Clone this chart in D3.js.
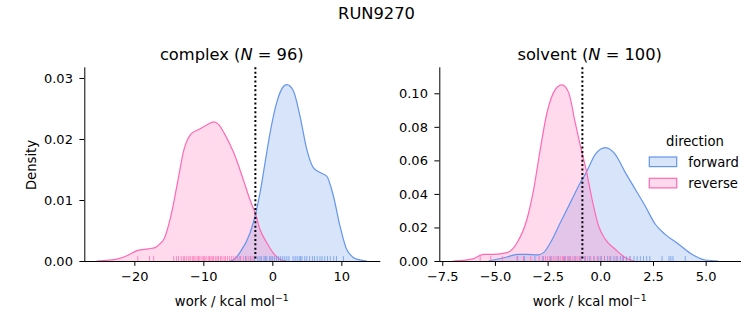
<!DOCTYPE html>
<html>
<head>
<meta charset="utf-8">
<script src="https://cdn.jsdelivr.net/npm/d3@7"></script>
<style>
body { margin: 0; background: #fff; }
svg text { font-family: "DejaVu Sans", sans-serif; fill: #000; }
.axis text { font-size: 13px; }
.axis path, .axis line { stroke: #000; stroke-width: 1; }
.title { font-size: 16.3px; }
.axislabel { font-size: 13.2px; }
.legend { font-size: 13.2px; }
</style>
</head>
<body>
<svg id="chart" width="753" height="325"></svg>
<script>
// complex leg, density curves
const fwdComplexWork = [-6.2, -5.5, -4.68, -3.23, -2.5, -1.78, -1.06, -0.33, 0.64, 1.6, 2.09, 3.04, 4.0, 4.99, 5.94, 6.91, 7.88, 8.84, 9.81, 10.78, 12.2, 13.7];
const fwdComplexDensity = [0, 0.0003, 0.0014, 0.0046, 0.0074, 0.0112, 0.0161, 0.0210, 0.0260, 0.0286, 0.0289, 0.0279, 0.0238, 0.0183, 0.0153, 0.0145, 0.0139, 0.0107, 0.0057, 0.0019, 0.0003, 0];
const revComplexWork = [-25.5, -24, -22.5, -21, -19.6, -18, -17, -16.3, -15.7, -14.7, -13.75, -12.8, -11.8, -10.6, -9.65, -8.45, -7.8, -7.0, -6.1, -5.65, -4.2, -3.23, -2.46, -1.8, -0.8, 0.15, 1.1, 2.0];
const revComplexDensity = [0, 0.0001, 0.0003, 0.0009, 0.0017, 0.0020, 0.0022, 0.0028, 0.0036, 0.0074, 0.0128, 0.0183, 0.0208, 0.0216, 0.0222, 0.0228, 0.0224, 0.0210, 0.0190, 0.0179, 0.0133, 0.0100, 0.0078, 0.0052, 0.0030, 0.0013, 0.0003, 0];

// solvent leg
const fwdSolventWork = [-5.3, -4.43, -3.95, -3.48, -3.0, -2.69, -2.37, -1.9, -1.42, -0.95, -0.71, -0.47, -0.24, 0.24, 0.71, 1.19, 1.66, 2.13, 2.61, 3.08, 3.72, 4.35, 4.98, 5.6];
const fwdSolventDensity = [0, 0.0024, 0.0040, 0.0040, 0.0036, 0.0050, 0.0109, 0.0228, 0.0348, 0.0467, 0.0517, 0.0580, 0.0636, 0.0676, 0.0636, 0.0527, 0.0428, 0.0328, 0.0219, 0.0159, 0.0100, 0.0040, 0.0006, 0];
const revSolventWork = [-7.0, -6.5, -6.0, -5.54, -5.06, -4.43, -3.95, -3.48, -3.16, -2.85, -2.53, -2.13, -1.82, -1.5, -1.19, -0.87, -0.71, -0.39, -0.08, 0.24, 0.71, 1.19, 1.6];
const revSolventDensity = [0, 0.0004, 0.0014, 0.0040, 0.0040, 0.0050, 0.0109, 0.0249, 0.0428, 0.0666, 0.0884, 0.1024, 0.1050, 0.1004, 0.0825, 0.0646, 0.0566, 0.0368, 0.0209, 0.0129, 0.0070, 0.0020, 0];

// individual work values (rug)
const fwdComplexRug = [-4.7, -3.9, -3.2, -2.6, -2.1, -1.8, -1.6, -1.2, -1.0, -0.8, -0.4, -0.2, 0.0, 0.3, 0.6, 0.9, 1.2, 1.5, 1.8, 2.1, 2.4, 3.0, 3.3, 3.6, 3.9, 4.1, 4.3, 4.7, 5.0, 5.4, 5.8, 6.1, 6.5, 6.9, 7.2, 7.6, 8.0, 8.4, 8.9, 9.3, 10.3];
const revComplexRug = [-19.5, -17.8, -17.2, -14.3, -13.9, -13.6, -13.2, -12.9, -12.7, -12.4, -12.1, -11.9, -11.6, -11.4, -11.2, -10.9, -10.7, -10.5, -10.2, -10.0, -9.8, -9.6, -9.3, -9.1, -8.9, -8.7, -8.5, -8.2, -8.0, -7.8, -7.5, -7.3, -7.0, -6.8, -6.5, -6.2, -5.9, -5.6, -5.3, -5.0, -4.6, -4.2, -3.8, -3.5, -3.1, -2.8];
const fwdSolventRug = [-3.92, -3.6, -3.1, -2.7, -2.35, -2.0, -1.7, -1.45, -1.2, -0.95, -0.7, -0.5, -0.3, -0.1, 0.05, 0.2, 0.35, 0.5, 0.65, 0.8, 0.95, 1.1, 1.25, 1.42, 1.6, 1.75, 1.9, 2.05, 2.2, 2.35, 2.93, 3.26, 3.35, 3.45, 4.03];
const revSolventRug = [-5.7, -5.2, -4.65, -3.95, -3.65, -3.3, -2.9, -2.75, -2.6, -2.5, -2.4, -2.3, -2.2, -2.1, -2.0, -1.9, -1.8, -1.75, -1.65, -1.55, -1.5, -1.4, -1.3, -1.2, -1.1, -1.0, -0.9, -0.75, -0.6, -0.45, -0.3, -0.15, 0.0, 0.2, 0.45, 0.75, 1.05, 1.4];

// dotted reference lines
const complexMarker = -2.46;
const solventMarker = -0.85;

const complexXTicks = [-20, -10, 0, 10];
const complexYTicks = [0, 0.01, 0.02, 0.03];
const solventXTicks = [-7.5, -5.0, -2.5, 0.0, 2.5, 5.0];
const solventYTicks = [0, 0.02, 0.04, 0.06, 0.08, 0.10];

const directions = ["forward", "reverse"];
const colors = {forward: "#6495ED", reverse: "#FF69B4"};

let svg = d3.select("#chart");
let plotTop = 67.3, plotBottom = 261;

svg.append("text").attr("class", "title").attr("x", 376.5).attr("y", 19)
    .attr("text-anchor", "middle").text("RUN9270");

function drawPanel(p){
    let g = svg.append("g");
    let xScale = d3.scaleLinear().domain(p.xDomain).range([p.x0, p.x1]);
    let yScale = d3.scaleLinear().domain([0, p.yMax]).range([plotBottom, plotTop]);

    let area = d3.area().curve(d3.curveMonotoneX)
        .x(d => xScale(d[0])).y0(plotBottom).y1(d => yScale(d[1]));
    let line = d3.line().curve(d3.curveMonotoneX)
        .x(d => xScale(d[0])).y(d => yScale(d[1]));

    let series = p.series.map(s => ({dir: s.dir, pts: d3.zip(s.work, s.density), rug: s.rug}));

    series.forEach(s => {
        g.append("path").attr("d", area(s.pts))
            .attr("fill", colors[s.dir]).attr("fill-opacity", 0.25).attr("stroke", "none");
    });
    series.forEach(s => {
        g.append("path").attr("d", line(s.pts))
            .attr("fill", "none").attr("stroke", colors[s.dir]).attr("stroke-width", 1.2);
    });
    series.forEach(s => {
        g.selectAll(null).data(s.rug).enter().append("line")
            .attr("x1", d => xScale(d)).attr("x2", d => xScale(d))
            .attr("y1", plotBottom).attr("y2", plotBottom - 4.9)
            .attr("stroke", colors[s.dir]).attr("stroke-opacity", 0.75).attr("stroke-width", 1);
    });

    g.append("line").attr("x1", xScale(p.marker)).attr("x2", xScale(p.marker))
        .attr("y1", plotTop).attr("y2", plotBottom)
        .attr("stroke", "#000").attr("stroke-width", 2).attr("stroke-dasharray", "2,2.4");

    let xAxis = d3.axisBottom(xScale).tickValues(p.xTicks).tickSizeInner(4.9).tickSizeOuter(0)
        .tickPadding(5.5).tickFormat(d3.format(p.xFormat));
    g.append("g").attr("class", "axis").attr("transform", `translate(0,${plotBottom})`).call(xAxis);
    let yAxis = d3.axisLeft(yScale).tickValues(p.yTicks).tickSizeInner(4.9).tickSizeOuter(0)
        .tickPadding(6.5).tickFormat(d3.format(".2f"));
    g.append("g").attr("class", "axis").attr("transform", `translate(${p.x0},0)`).call(yAxis);
    g.selectAll(".axis .domain").attr("stroke-linecap", "square");

    let cx = (p.x0 + p.x1) / 2;
    let t = g.append("text").attr("class", "title").attr("x", cx).attr("y", 59.5).attr("text-anchor", "middle");
    t.append("tspan").text(p.name + " (");
    t.append("tspan").attr("font-style", "italic").text("N");
    t.append("tspan").text(" = " + p.n + ")");

    let xl = g.append("text").attr("class", "axislabel").attr("x", cx).attr("y", 306).attr("text-anchor", "middle");
    xl.append("tspan").text("work / kcal mol");
    xl.append("tspan").attr("dy", -5.5).attr("font-size", "9.3px").text("\u22121");
}

drawPanel({
    name: "complex", n: 96, x0: 84.3, x1: 379.3, xDomain: [-27.25, 15.5], yMax: 0.03175,
    xTicks: complexXTicks, yTicks: complexYTicks, xFormat: ".0f", marker: complexMarker,
    series: [
        {dir: "forward", work: fwdComplexWork, density: fwdComplexDensity, rug: fwdComplexRug},
        {dir: "reverse", work: revComplexWork, density: revComplexDensity, rug: revComplexRug}
    ]
});
drawPanel({
    name: "solvent", n: 100, x0: 439.3, x1: 740, xDomain: [-7.64, 6.63], yMax: 0.1155,
    xTicks: solventXTicks, yTicks: solventYTicks, xFormat: ".1f", marker: solventMarker,
    series: [
        {dir: "forward", work: fwdSolventWork, density: fwdSolventDensity, rug: fwdSolventRug},
        {dir: "reverse", work: revSolventWork, density: revSolventDensity, rug: revSolventRug}
    ]
});

svg.append("text").attr("class", "axislabel")
    .attr("transform", "translate(36,165) rotate(-90)").attr("text-anchor", "middle").text("Density");

// legend
let lg = svg.append("g");
lg.append("text").attr("class", "legend").attr("x", 695).attr("y", 146).attr("text-anchor", "middle").text("direction");
directions.forEach((d, i) => {
    let y = 157 + i * 21.3;
    lg.append("rect").attr("x", 649.3).attr("y", y).attr("width", 27.4).attr("height", 9.6)
        .attr("fill", colors[d]).attr("fill-opacity", 0.25)
        .attr("stroke", colors[d]).attr("stroke-width", 1.2);
    lg.append("text").attr("class", "legend").attr("x", 688.3).attr("y", y + 9.5).text(d);
});
</script>
</body>
</html>
